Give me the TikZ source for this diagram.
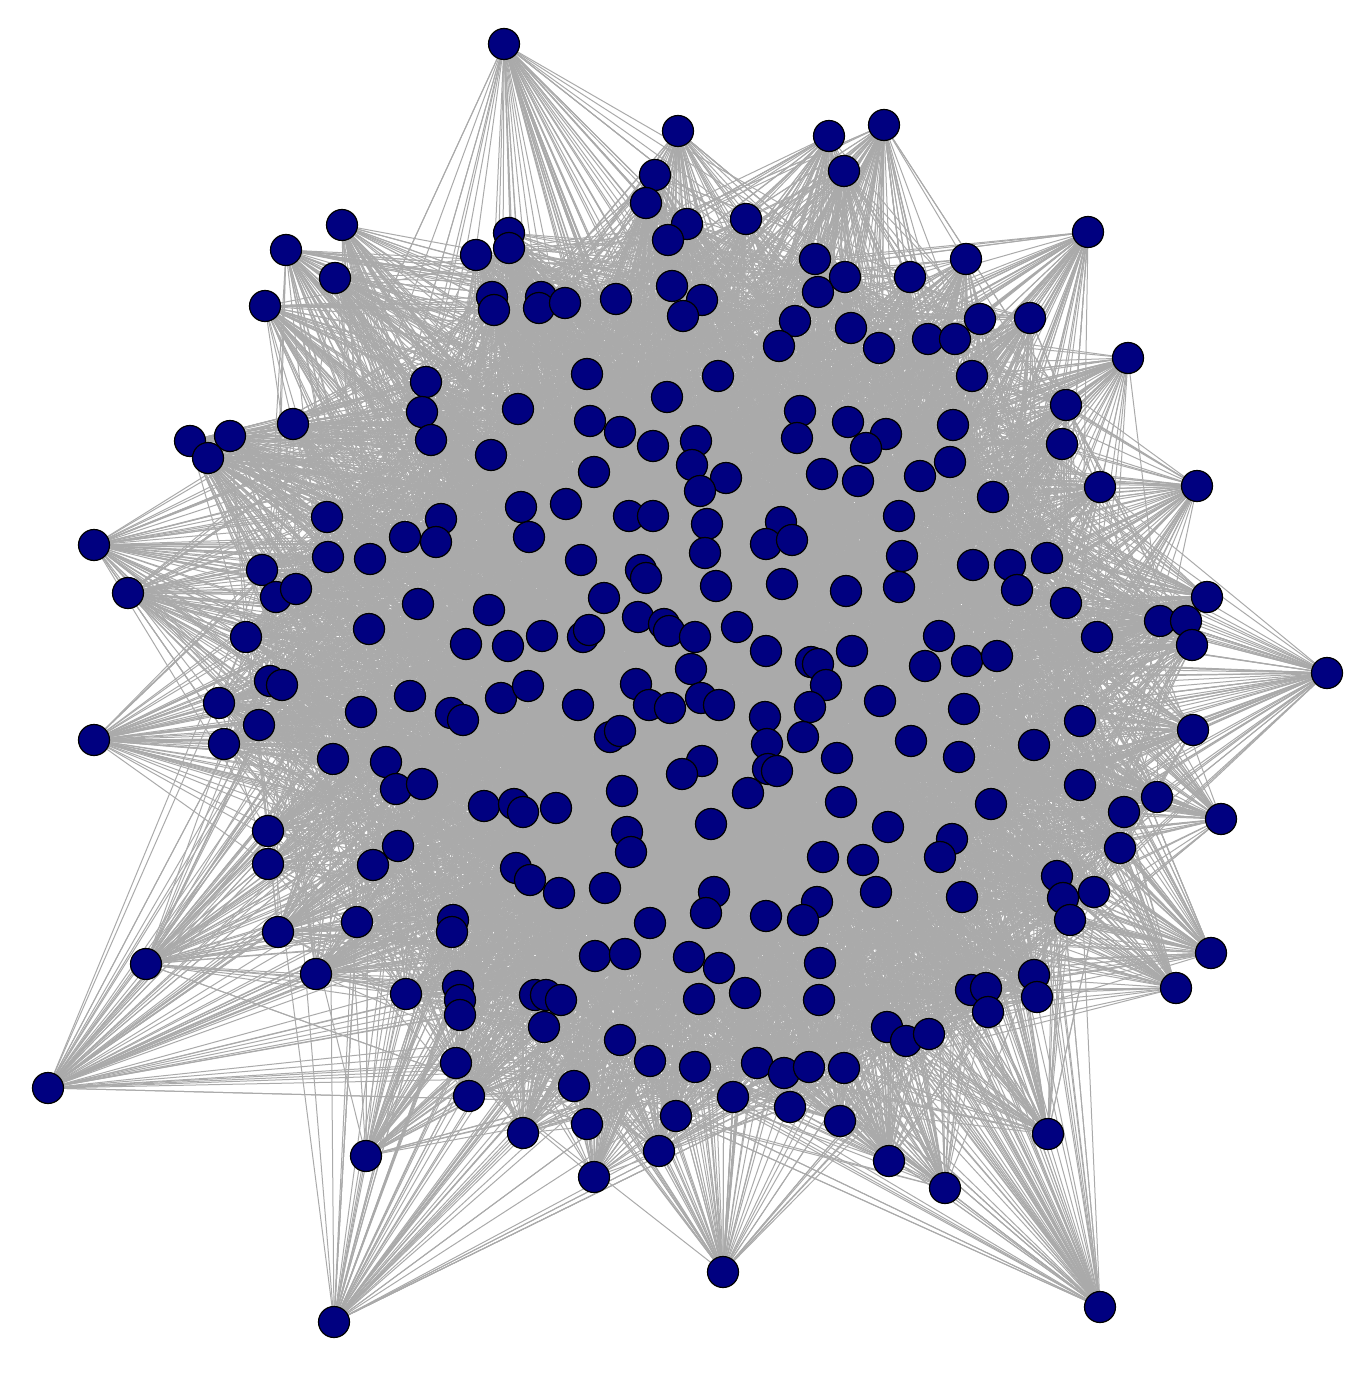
\documentclass[tikz,border=0pt]{standalone}
\usetikzlibrary{backgrounds}
\definecolor{edgegray}{RGB}{170,170,170}
\definecolor{vnavy}{RGB}{0,0,128}
\begin{document}
\begin{tikzpicture}[x=0.5pt,y=-0.5pt,
  vert/.style={circle,fill=vnavy,draw=black,line width=0.6pt,minimum size=15.5pt,inner sep=0pt},
  edge/.style={draw=edgegray,line width=0.5pt}]
\useasboundingbox (0,0) rectangle (1365,1374);
\foreach \x/\y [count=\i] in {
504/44,678/131,829/136,884/125,844/171,655/175,646/203,687/224,668/240,746/219,1088/232,
342/225,286/250,509/233,509/248,476/255,335/278,265/306,492/297,494/310,541/297,539/308,565/303,616/299,
672/286,702/300,683/316,815/259,845/277,818/292,910/277,966/259,795/321,779/346,851/328,879/348,928/339,
955/339,980/319,1030/318,1128/358,972/376,1066/405,1062/444,1100/487,1197/486,
426/382,422/412,431/440,587/374,718/376,667/397,518/409,590/421,620/432,653/446,696/441,692/465,726/478,
700/491,491/455,293/424,190/441,230/436,208/458,800/411,797/438,848/422,886/434,866/448,953/425,950/462,
920/476,822/474,858/481,993/497,594/472,
327/517,441/519,405/537,436/542,521/507,529/537,566/504,629/516,653/516,707/524,705/553,781/522,766/544,
792/540,899/516,902/556,94/545,128/593,328/557,370/559,262/570,276/597,296/589,581/560,641/570,646/578,
716/586,782/584,846/591,899/587,973/565,1010/565,1017/590,1047/558,
418/604,369/629,246/637,489/610,466/644,508/646,542/636,583/637,589/630,604/598,638/617,664/624,669/631,
695/637,737/627,766/651,811/662,818/664,852/651,939/636,925/666,967/661,997/656,1066/603,1097/637,
1160/621,1186/621,1207/597,1192/645,1327/673,
270/681,282/685,219/703,224/744,259/725,361/712,410/696,451/713,463/720,501/698,528/686,578/705,636/684,
649/705,670/708,691/669,701/698,719/705,765/717,826/685,810/707,880/701,964/709,94/740,1080/721,1193/730,
333/759,386/762,396/789,422/784,610/737,620/731,767/744,803/737,768/769,777/771,702/761,682/774,622/791,
748/793,837/758,911/741,959/757,1034/745,1080/785,841/802,991/804,1124/812,1157/797,1221/819,484/806,
514/804,523/812,556/808,711/824,268/831,
398/846,373/865,268/864,516/868,530/880,559/893,627/832,631/852,605/888,714/892,706/913,823/857,863/860,
888/827,952/839,940/857,876/892,962/897,1120/848,1057/876,1063/898,1094/892,1070/920,817/902,803/920,
278/932,357/922,453/920,452/932,650/923,766/916,146/964,316/974,406/994,458/986,460/1000,460/1015,
535/995,546/995,561/1000,544/1027,595/956,625/954,689/957,719/968,699/999,745/993,820/963,819/1000,
971/990,986/988,988/1012,1034/975,1037/997,1211/953,1176/988,
887/1027,906/1041,929/1034,620/1040,650/1061,695/1067,757/1063,784/1073,809/1067,844/1068,456/1063,
469/1096,574/1086,587/1124,676/1116,733/1097,790/1107,840/1121,523/1133,659/1151,594/1177,889/1161,
945/1188,1048/1134,48/1088,366/1156,723/1272,334/1322,1100/1307}
{ \node[vert] (n\i) at (\x,\y) {};
  \pgfmathtruncatemacro\hh{veclen(\x-700,\y-680)>470 ? 1 : 0}
  \expandafter\xdef\csname hub\i\endcsname{\hh}
  \xdef\nN{\i} }
\begin{pgfonlayer}{background}
\pgfmathsetseed{2024}
\foreach \i in {1,...,\nN}{
  \ifnum\csname hub\i\endcsname=1 \def\kmax{55}\else\def\kmax{28}\fi
  \foreach \k in {1,...,\kmax}{
    \pgfmathrandominteger{\j}{1}{\nN}
    \pgfmathtruncatemacro\both{\csname hub\i\endcsname+\csname hub\j\endcsname}
    \ifnum\both<2
      \draw[edge] (n\i.center) -- (n\j.center);
    \fi
  }
}
\end{pgfonlayer}
\end{tikzpicture}
\end{document}
